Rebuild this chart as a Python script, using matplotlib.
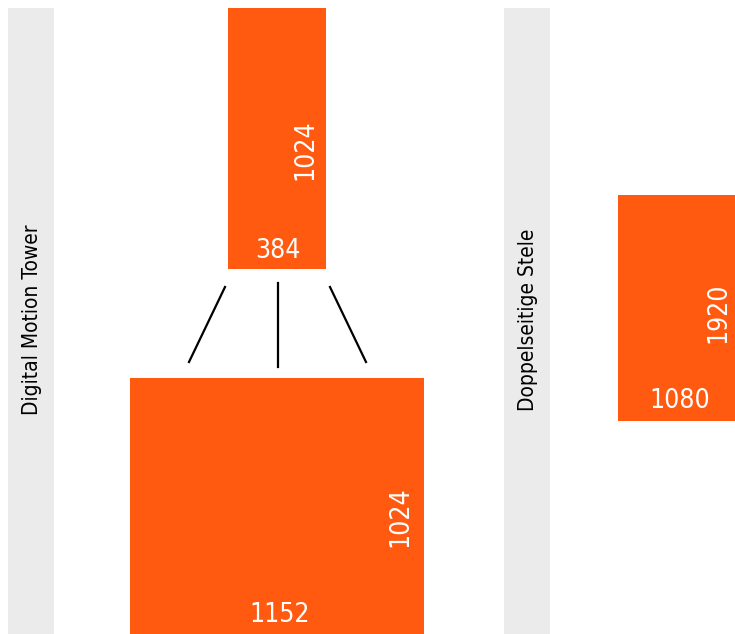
import matplotlib
matplotlib.use("Agg")
import matplotlib.pyplot as plt
from matplotlib.patches import Rectangle

# screen resolutions in pixels (width, height)
screen_names = ["Digital Motion Tower", "Doppelseitige Stele"]
module_size = [384, 1024]      # one tower module
tower_size = [1152, 1024]      # combined tower canvas
stele_size = [1080, 1920]      # stele side

ORANGE = "#FF5A10"
GREY = "#EBEBEB"
FONT = dict(family="DejaVu Sans", stretch="condensed")

fig = plt.figure(figsize=(7.35, 6.34), dpi=100)
ax = fig.add_axes([0, 0, 1, 1])
ax.set_xlim(0, 735)
ax.set_ylim(634, 0)
ax.axis("off")

# grey side bands with the screen names
for x0, name in zip([8, 504], screen_names):
    ax.add_patch(Rectangle((x0, 8), 46, 640, color=GREY, lw=0))
    ax.text(x0 + 24, 320, name, rotation=90, ha="center", va="center",
            fontsize=15, color="black", **FONT)

def screen(x0, y0, size, scale, wlab, hlab):
    w, h = size[0] * scale, size[1] * scale
    ax.add_patch(Rectangle((x0, y0), w, h, color=ORANGE, lw=0))
    ax.text(x0 + wlab[0], y0 + wlab[1], str(size[0]), ha="center", va="center",
            fontsize=19, color="white", **FONT)
    ax.text(x0 + hlab[0], y0 + hlab[1], str(size[1]), rotation=90, ha="center",
            va="center", fontsize=19, color="white", **FONT)

s = 294 / 1152
screen(228, 8, module_size, s, (50, 243), (77, 142))
screen(130, 378, tower_size, s, (150, 237), (270, 139))
screen(618, 195, stele_size, 226 / 1920, (62, 206), (100, 118))

# connector lines from module to the tower canvas
for (xa, ya), (xb, yb) in [((225, 287), (189, 362)), ((278, 283), (278, 367)),
                           ((330, 287), (366, 362))]:
    ax.plot([xa, xb], [ya, yb], color="black", lw=1.6)

fig.savefig("out.png", dpi=100)
